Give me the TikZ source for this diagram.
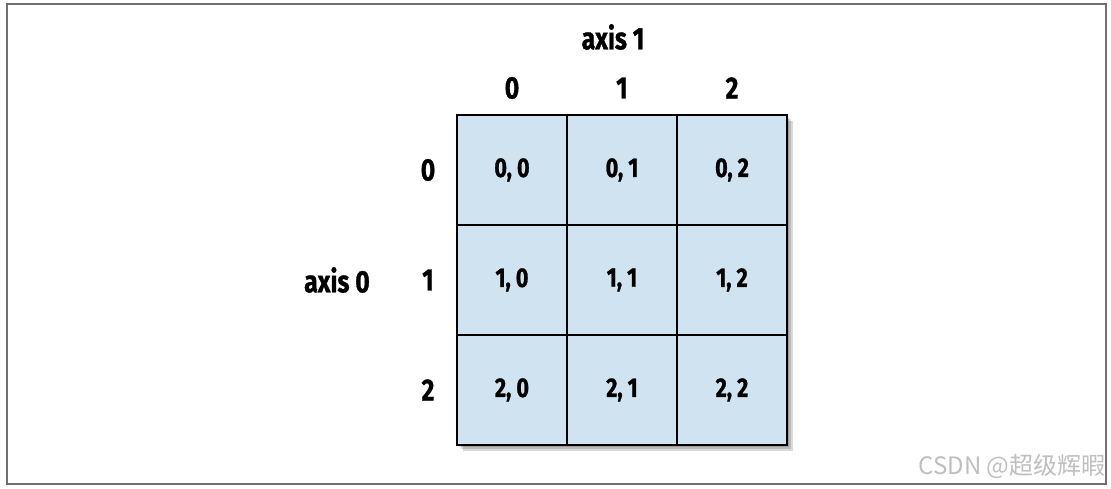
\documentclass[tikz,border=0pt]{standalone}
\usepackage{fontspec}
\setmainfont[FakeStretch=0.8, BoldFeatures={FakeBold=1}]{Fira Sans}
\newfontfamily\cjk{Noto Sans CJK SC}
\definecolor{cellblue}{HTML}{CFE3F0}
\definecolor{framegray}{HTML}{707070}

\begin{document}
\begin{tikzpicture}[x=1pt, y=-1pt,
        cell/.style={draw, line width=2pt, fill=cellblue, minimum size=110pt, inner sep=0pt,
            font=\fontsize{27}{27}\selectfont\bfseries},
        lbl/.style={font=\fontsize{31}{31}\selectfont\bfseries}]
        \useasboundingbox (0,0) rectangle (1111,489);
        \draw[framegray, line width=2pt] (7,4) rectangle (1106,484);
        \foreach \s in {6,4,2} {
            \fill[black, opacity=0.15] (457+\s,115+\s) rectangle (787+\s,445+\s);
        }
        \foreach \r in {0,1,2} {
            \foreach \c in {0,1,2} {
                \node[cell] (c\r\c) at (512+110*\c, 170+110*\r) {\r, \c};
            }
        }
        \foreach \c in {0,1,2} {
            \node[lbl] (col\c) at (512+110*\c, 88) {\c};
        }
        \foreach \r in {0,1,2} {
            \node[lbl] (row\r) at (428, 170+110*\r) {\r};
        }
        \node[lbl] (axis1) at (613, 37) {axis 1};
        \node[lbl] (axis0) at (337, 280) {axis 0};
        \node[anchor=east, text=black!25, font=\cjk\fontsize{24}{24}\selectfont] (mark) at (1109, 466) {CSDN @超级辉暇};
    \end{tikzpicture}
\end{document}
